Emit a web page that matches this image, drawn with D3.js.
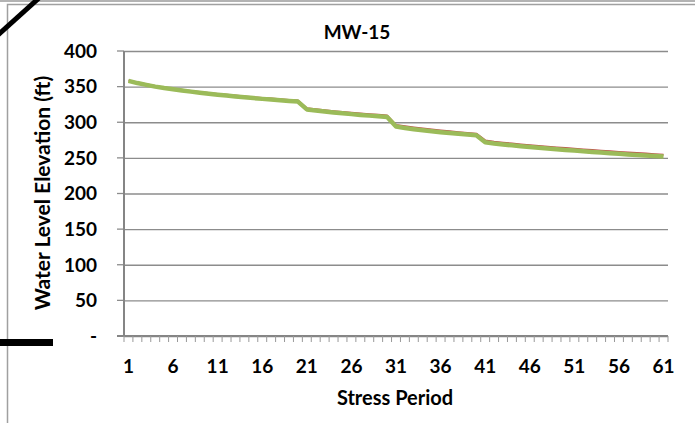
<!DOCTYPE html>
<html>
<head>
<meta charset="utf-8">
<script src="https://cdn.jsdelivr.net/npm/d3@7"></script>
<style>
  body { margin: 0; background: #fff; }
  text { font-family: Lato, "Open Sans", sans-serif; font-weight: bold; fill: #000; }
</style>
</head>
<body>
<div id="chart-area"></div>
<script>
// stress periods 1..61
var periods = d3.range(1, 62);
var yTicks = [0, 50, 100, 150, 200, 250, 300, 350, 400];
var yTickLabels = ["-", "50", "100", "150", "200", "250", "300", "350", "400"];
var xLabelEvery = 5;

// observed (red) and simulated (green) water level, ft
var redSeries = [
    358.5, 355.7, 353.2, 350.8, 348.8, 347.1, 345.5, 344.0, 342.5, 341.1,
    339.8, 338.6, 337.4, 336.3, 335.2, 334.2, 333.2, 332.2, 331.3, 330.5,
    319.8, 318.3, 316.9, 315.6, 314.4, 313.3, 312.3, 311.3, 310.4, 309.5,
    296.2, 294.3, 292.6, 291.1, 289.7, 288.4, 287.2, 286.1, 285.0, 284.0,
    274.5, 272.8, 271.4, 270.1, 268.9, 267.8, 266.7, 265.7, 264.7, 263.7,
    262.8, 261.9, 261.0, 260.1, 259.2, 258.4, 257.6, 256.8, 256.0, 255.2,
    254.5
];
var greenSeries = [
    358.0, 355.0, 352.5, 350.0, 348.0, 346.3, 344.6, 343.0, 341.5, 340.0,
    338.7, 337.4, 336.2, 335.0, 333.9, 332.8, 331.8, 330.8, 329.9, 329.0,
    318.0, 316.5, 315.0, 313.7, 312.5, 311.4, 310.3, 309.3, 308.3, 307.4,
    294.0, 292.0, 290.3, 288.8, 287.4, 286.1, 284.9, 283.8, 282.7, 281.7,
    272.0, 270.3, 268.9, 267.6, 266.4, 265.3, 264.2, 263.2, 262.2, 261.2,
    260.2, 259.3, 258.4, 257.5, 256.6, 255.7, 254.9, 254.1, 253.3, 252.5,
    251.8
];

var W = 695, H = 423;
var margin = {top: 51, right: 27, bottom: 87, left: 124},
    width = W - margin.left - margin.right,
    height = H - margin.top - margin.bottom;

var svg = d3.select("#chart-area")
    .append("svg")
        .attr("width", W)
        .attr("height", H);

// frame of the chart object
svg.append("line")
    .attr("x1", 0).attr("x2", W).attr("y1", 1).attr("y2", 1)
    .attr("stroke", "#9a9a9a").attr("stroke-width", 1.5);
svg.append("rect")
    .attr("x", 7.5).attr("y", 4.5)
    .attr("width", W + 20).attr("height", H + 20)
    .attr("fill", "none")
    .attr("stroke", "#a0a0a0").attr("stroke-width", 1.5);

// black marks on the scan
svg.append("line")
    .attr("x1", -2).attr("y1", 35).attr("x2", 39).attr("y2", -2)
    .attr("stroke", "#000").attr("stroke-width", 5);
svg.append("rect")
    .attr("x", 0).attr("y", 339).attr("width", 53).attr("height", 7)
    .attr("fill", "#000");

var g = svg.append("g")
    .attr("transform", "translate(" + margin.left + "," + margin.top + ")");

var x = d3.scaleBand()
    .domain(periods)
    .range([0, width]);
var bw = x.bandwidth();

var y = d3.scaleLinear()
    .domain([0, 400])
    .range([height, 0]);

// gridlines
g.append("g")
    .attr("class", "grid")
    .call(d3.axisLeft(y).tickValues(yTicks).tickSize(-width).tickFormat(""))
    .call(function(s) {
        s.select(".domain").remove();
        s.selectAll("line").attr("stroke", "#8c8c8c").attr("stroke-width", 1.3);
    });
// y axis ticks (outside)
g.append("g")
    .attr("class", "y-ticks")
    .selectAll("line")
    .data(yTicks)
    .enter()
    .append("line")
        .attr("x1", -7).attr("x2", 0)
        .attr("y1", d => y(d)).attr("y2", d => y(d))
        .attr("stroke", "#8c8c8c").attr("stroke-width", 1.3);

// y axis line
g.append("line")
    .attr("x1", 0).attr("x2", 0).attr("y1", 0).attr("y2", height)
    .attr("stroke", "#858585").attr("stroke-width", 2);

// x axis line + ticks at category boundaries
g.append("line")
    .attr("x1", -7).attr("x2", width).attr("y1", height).attr("y2", height)
    .attr("stroke", "#858585").attr("stroke-width", 2);
g.append("g")
    .attr("class", "x-ticks")
    .selectAll("line")
    .data(d3.range(periods.length + 1))
    .enter()
    .append("line")
        .attr("x1", d => d * bw).attr("x2", d => d * bw)
        .attr("y1", height).attr("y2", height + 6)
        .attr("stroke", "#999").attr("stroke-width", 1);

// y tick labels
g.append("g")
    .selectAll("text")
    .data(yTicks)
    .enter()
    .append("text")
        .attr("x", -27)
        .attr("y", d => y(d))
        .attr("dy", "0.36em")
        .attr("text-anchor", "end")
        .style("font-size", "19px")
        .text((d, i) => yTickLabels[i]);

// x tick labels
g.append("g")
    .selectAll("text")
    .data(periods.filter(p => (p - 1) % xLabelEvery == 0))
    .enter()
    .append("text")
        .attr("x", d => x(d) + bw / 2)
        .attr("y", height + 37)
        .attr("text-anchor", "middle")
        .style("font-size", "19px")
        .text(d => d);

// series
var line = d3.line()
    .x(function(d, i) { return x(periods[i]) + bw / 2; })
    .y(function(d) { return y(d); });

g.append("path")
    .datum(redSeries)
    .attr("fill", "none")
    .attr("stroke", "#C0504D")
    .attr("stroke-width", 2)
    .attr("stroke-linejoin", "round")
    .attr("d", line);

g.append("path")
    .datum(greenSeries)
    .attr("fill", "none")
    .attr("stroke", "#9BBB59")
    .attr("stroke-width", 4.5)
    .attr("stroke-linejoin", "round")
    .attr("d", line);

// titles
svg.append("text")
    .attr("x", 357)
    .attr("y", 39)
    .attr("text-anchor", "middle")
    .style("font-size", "19px")
    .text("MW-15");

svg.append("text")
    .attr("x", 395)
    .attr("y", 405)
    .attr("text-anchor", "middle")
    .style("font-size", "20px")
    .text("Stress Period");

svg.append("text")
    .attr("transform", "translate(50,193) rotate(-90)")
    .attr("text-anchor", "middle")
    .style("font-size", "21px")
    .text("Water Level Elevation (ft)");
</script>
</body>
</html>
